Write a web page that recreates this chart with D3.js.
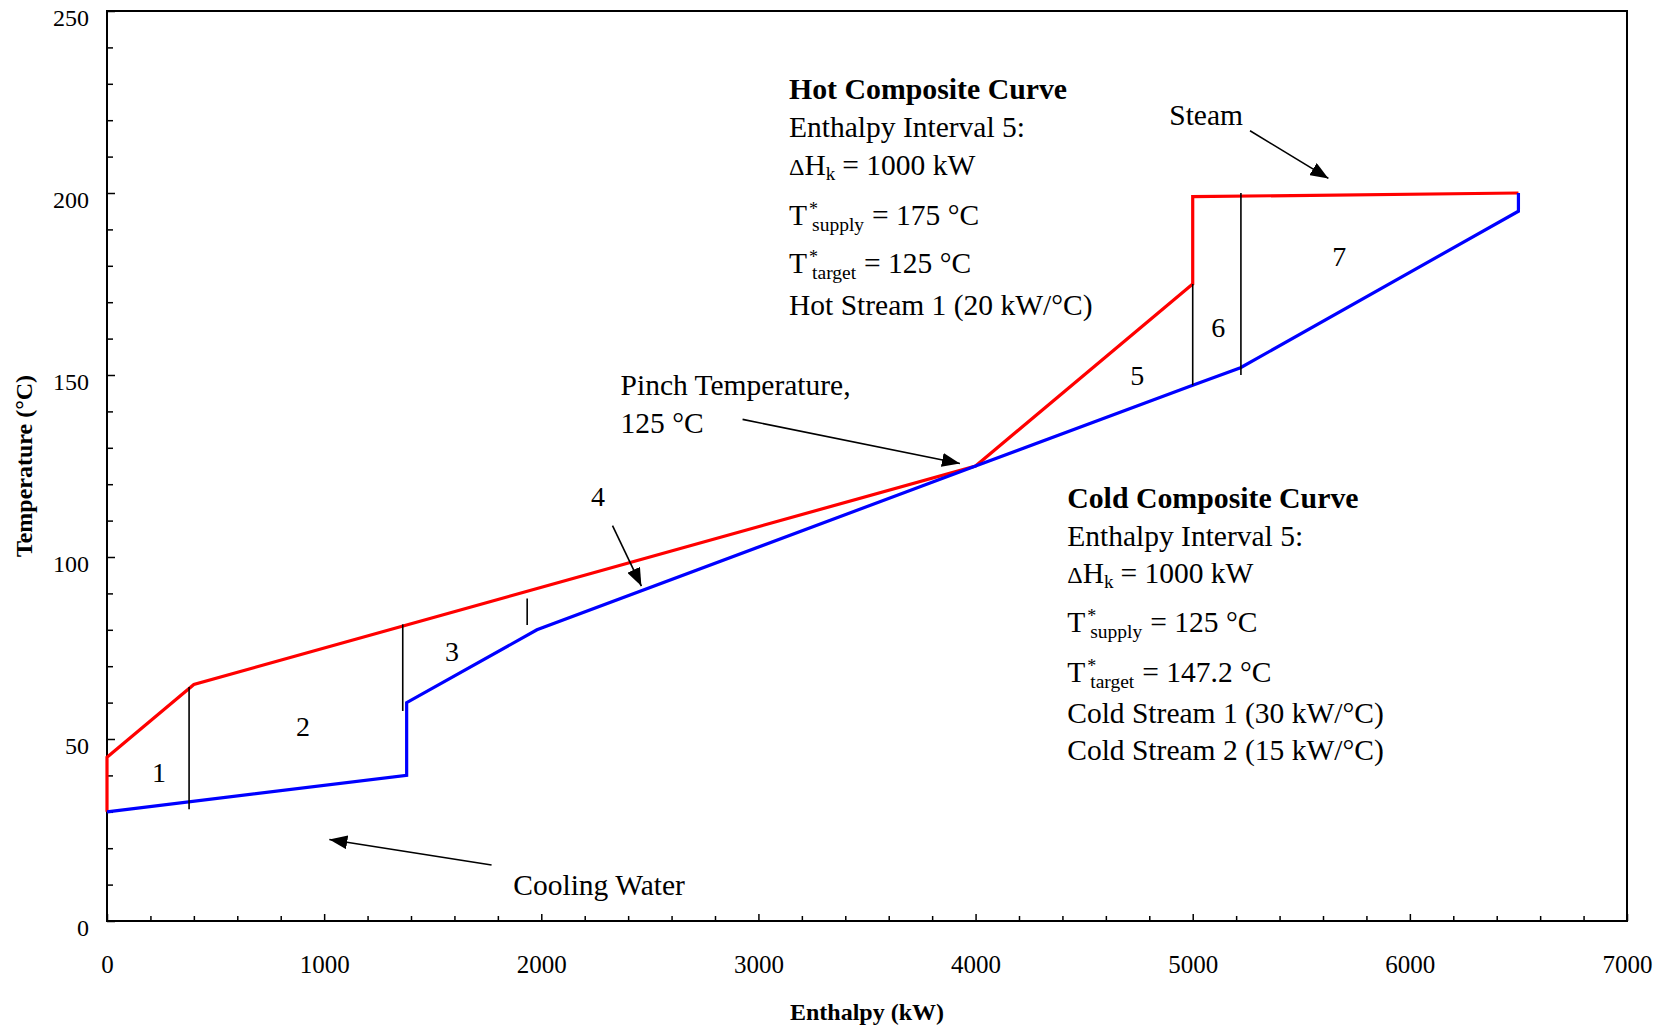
<!DOCTYPE html>
<html>
<head>
<meta charset="utf-8">
<script src="https://cdn.jsdelivr.net/npm/d3@7"></script>
<style>
body { margin: 0; background: #fff; }
text { font-family: "Liberation Serif", "Times New Roman", serif; fill: #000; }
</style>
</head>
<body>
<script>
// hot composite curve (shifted temperatures)
const hotH = [0, 0, 400, 4000, 5000, 5000, 6500]
const hotT = [30, 45, 65, 125, 175, 199, 200]

// cold composite curve
const coldH = [0, 1380, 1380, 1980, 4000, 5000, 5220, 6500, 6500]
const coldT = [30, 40, 60, 80, 125, 147.2, 152, 195, 200]

// enthalpy interval boundaries (black vertical lines)
const boundH = [378, 1362, 1935, 5000, 5222]
const boundLow = [30.7, 57.7, 81.3, 147.2, 150]
const boundHigh = [64.3, 81.5, 88.6, 175, 200]

// interval numbers and where they sit
const intervals = ['1', '2', '3', '4', '5', '6', '7']
const intervalH = [240, 903, 1589, 2261, 4745, 5118, 5675]
const intervalT = [40.7, 53.5, 74, 116.5, 150, 163, 182.5]

// axis ticks
const xMajor = [0, 1000, 2000, 3000, 4000, 5000, 6000, 7000]
const yMajor = [0, 50, 100, 150, 200, 250]

let svg = d3.select('body').append('svg')
    .attr('width', 1665)
    .attr('height', 1030)

let x = d3.scaleLinear().domain([0, 7000]).range([107, 1627])
let y = d3.scaleLinear().domain([0, 250]).range([921, 11])

// arrow head
svg.append('defs').append('marker')
    .attr('id', 'head')
    .attr('markerUnits', 'userSpaceOnUse')
    .attr('viewBox', '0 -7 18 14')
    .attr('markerWidth', 18)
    .attr('markerHeight', 14)
    .attr('refX', 18)
    .attr('refY', 0)
    .attr('orient', 'auto')
    .append('path')
    .attr('d', 'M0,-7L18,0L0,7Z')
    .attr('fill', '#000')

/******************************************
 * AXES
 ******************************************/
let xMinor = d3.range(0, 7001, 200).filter(d => d % 1000 !== 0)
let yMinor = d3.range(0, 251, 10).filter(d => d % 50 !== 0)

let gx = svg.append('g').attr('transform', 'translate(0,921)')
gx.call(d3.axisBottom(x).tickValues(xMajor).tickSize(-7).tickPadding(34).tickFormat(d3.format('d')))
gx.append('g').call(d3.axisBottom(x).tickValues(xMinor).tickSize(-5).tickFormat(''))
gx.selectAll('.domain').remove()
gx.selectAll('line').attr('stroke', '#000').attr('stroke-width', 1.5)
gx.selectAll('text').attr('font-size', 25).attr('font-family', '"Liberation Serif", serif').attr('fill', '#000')

let gy = svg.append('g').attr('transform', 'translate(107,0)')
gy.call(d3.axisLeft(y).tickValues(yMajor).tickSize(-8).tickPadding(18).tickFormat(d3.format('d')))
gy.append('g').call(d3.axisLeft(y).tickValues(yMinor).tickSize(-6).tickFormat(''))
gy.selectAll('.domain').remove()
gy.selectAll('line').attr('stroke', '#000').attr('stroke-width', 1.5)
gy.selectAll('text').attr('font-size', 24).attr('y', 7).attr('font-family', '"Liberation Serif", serif').attr('fill', '#000')

// frame
svg.append('rect')
    .attr('x', x(0)).attr('y', y(250))
    .attr('width', x(7000) - x(0)).attr('height', y(0) - y(250))
    .attr('fill', 'none').attr('stroke', '#000').attr('stroke-width', 2)

svg.append('text')
    .attr('x', (x(0) + x(7000)) / 2).attr('y', 1020)
    .attr('text-anchor', 'middle').attr('font-size', 24).attr('font-weight', 'bold')
    .text('Enthalpy (kW)')

svg.append('text')
    .attr('transform', 'translate(32,' + (y(0) + y(250)) / 2 + ') rotate(-90)')
    .attr('text-anchor', 'middle').attr('font-size', 24).attr('font-weight', 'bold')
    .text('Temperature (°C)')

/******************************************
 * CURVES
 ******************************************/
let line = d3.line().x(d => x(d[0])).y(d => y(d[1]))

svg.append('path')
    .attr('d', line(d3.zip(hotH, hotT)))
    .attr('fill', 'none').attr('stroke', '#ff0000').attr('stroke-width', 3.2)

svg.append('path')
    .attr('d', line(d3.zip(coldH, coldT)))
    .attr('fill', 'none').attr('stroke', '#0000ff').attr('stroke-width', 3.2)

svg.selectAll('.bound')
    .data(boundH)
    .enter()
    .append('line')
        .attr('x1', d => x(d)).attr('x2', d => x(d))
        .attr('y1', (d, i) => y(boundLow[i])).attr('y2', (d, i) => y(boundHigh[i]))
        .attr('stroke', '#000').attr('stroke-width', 1.6)

svg.selectAll('.inum')
    .data(intervals)
    .enter()
    .append('text')
        .attr('x', (d, i) => x(intervalH[i]))
        .attr('y', (d, i) => y(intervalT[i]))
        .attr('text-anchor', 'middle').attr('dominant-baseline', 'central')
        .attr('font-size', 28)
        .text(d => d)

/******************************************
 * ANNOTATIONS
 ******************************************/
const fs = 29.5

function txt(px, py, size, s) {
    return svg.append('text').attr('x', px).attr('y', py).attr('font-size', size).text(s)
}

function block(h, t, lines) {
    let x0 = x(h)
    let yy = y(t)
    lines.forEach(l => {
        yy += l.dy
        if (l.kind === 'bold') {
            txt(x0, yy, 29.8, l.text).attr('font-weight', 'bold')
        } else if (l.kind === 'dh') {
            let w = txt(x0, yy, 24, 'Δ').node().getComputedTextLength()
            w += txt(x0 + w, yy, fs, 'H').node().getComputedTextLength()
            w += txt(x0 + w, yy + 5, 19, 'k').node().getComputedTextLength()
            txt(x0 + w + 7, yy, fs, l.text)
        } else if (l.kind === 't') {
            let w = txt(x0, yy, fs, 'T').node().getComputedTextLength()
            txt(x0 + w + 2, yy - 10, 18, '*')
            w += 5 + txt(x0 + w + 5, yy + 6, 19.5, l.sub).node().getComputedTextLength()
            txt(x0 + w + 8, yy, fs, l.text)
        } else {
            txt(x0, yy, fs, l.text)
        }
    })
}

block(3141, 225.7, [
    { kind: 'bold', text: 'Hot Composite Curve', dy: 0 },
    { text: 'Enthalpy Interval 5:', dy: 38 },
    { kind: 'dh', text: '= 1000 kW', dy: 38 },
    { kind: 't', sub: 'supply', text: '= 175 °C', dy: 50 },
    { kind: 't', sub: 'target', text: '= 125 °C', dy: 48 },
    { text: 'Hot Stream 1 (20 kW/°C)', dy: 42 }
])

block(4422, 113.4, [
    { kind: 'bold', text: 'Cold Composite Curve', dy: 0 },
    { text: 'Enthalpy Interval 5:', dy: 38 },
    { kind: 'dh', text: '= 1000 kW', dy: 37 },
    { kind: 't', sub: 'supply', text: '= 125 °C', dy: 49 },
    { kind: 't', sub: 'target', text: '= 147.2 °C', dy: 50 },
    { text: 'Cold Stream 1 (30 kW/°C)', dy: 41 },
    { text: 'Cold Stream 2 (15 kW/°C)', dy: 37 }
])

txt(x(4892), y(218.7), fs, 'Steam')
txt(x(2365), y(144.5), fs, 'Pinch Temperature,')
txt(x(2365), y(134.1), fs, '125 °C')
txt(x(1871), y(7.1), fs, 'Cooling Water')

// arrows: [from H, from T, to H, to T]
let arrows = [
    [5264, 217.1, 5625, 204.0],
    [2927, 137.8, 3928, 125.7],
    [1771, 15.4, 1024, 22.4],
    [2328, 108.6, 2461, 92]
]
svg.selectAll('.arrow')
    .data(arrows)
    .enter()
    .append('line')
        .attr('x1', d => x(d[0])).attr('y1', d => y(d[1]))
        .attr('x2', d => x(d[2])).attr('y2', d => y(d[3]))
        .attr('stroke', '#000').attr('stroke-width', 1.6)
        .attr('marker-end', 'url(#head)')
</script>
</body>
</html>
